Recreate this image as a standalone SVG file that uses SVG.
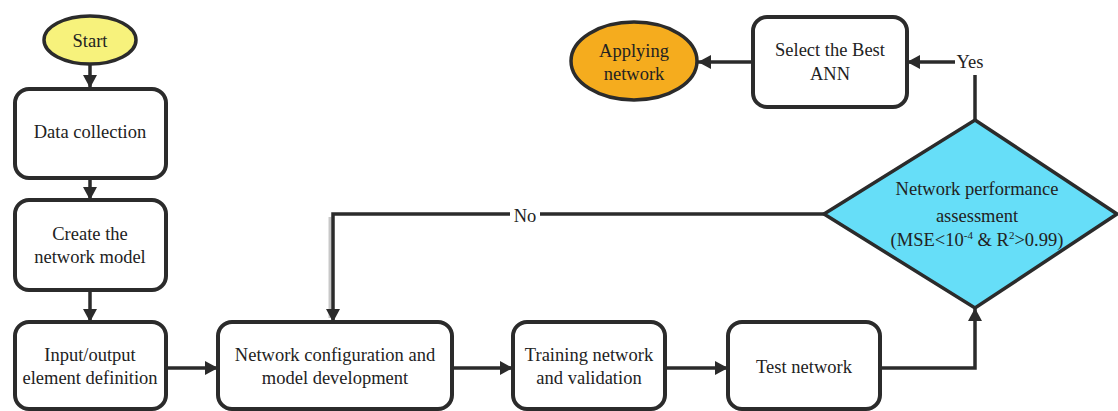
<svg xmlns="http://www.w3.org/2000/svg" width="1118" height="411" viewBox="0 0 1118 411">
<style>
.box{fill:#ffffff;stroke:#2b2b2b;stroke-width:4}
.t{font-family:"Liberation Serif","Times New Roman",serif;font-size:18.5px;fill:#222;text-anchor:middle}
.c{fill:none;stroke:#2b2b2b;stroke-width:3.5}
</style>
<defs>
<marker id="ah" markerUnits="userSpaceOnUse" markerWidth="14" markerHeight="14" refX="13" refY="7" orient="auto">
<path d="M0,0 L13,7 L0,14 z" fill="#2b2b2b"/>
</marker>
</defs>
<rect width="1118" height="411" fill="#ffffff"/>

<g id="connectors">
<line class="c" x1="90" y1="65" x2="90" y2="88" marker-end="url(#ah)"/>
<line class="c" x1="90" y1="178" x2="90" y2="200" marker-end="url(#ah)"/>
<line class="c" x1="90" y1="290" x2="90" y2="322" marker-end="url(#ah)"/>
<line class="c" x1="166" y1="368" x2="218" y2="368" marker-end="url(#ah)"/>
<line class="c" x1="452" y1="368" x2="513" y2="368" marker-end="url(#ah)"/>
<line class="c" x1="665" y1="368" x2="728" y2="368" marker-end="url(#ah)"/>
<polyline class="c" points="880,368 975,368 975,308" marker-end="url(#ah)"/>
<line x1="330" y1="217" x2="330" y2="318" stroke="#c8c8c8" stroke-width="3"/>
<polyline class="c" points="824,214 333,214 333,322" marker-end="url(#ah)"/>
<polyline class="c" points="975,120 975,75"/>
<line class="c" x1="955" y1="62" x2="907" y2="62" marker-end="url(#ah)"/>
<line class="c" x1="753" y1="62" x2="698" y2="62" marker-end="url(#ah)"/>
<rect x="510" y="205" width="30" height="18" fill="#ffffff"/>
<text class="t" x="525" y="222">No</text>
<text class="t" x="970" y="68">Yes</text>
</g>

<g id="start">
<ellipse cx="90" cy="40" rx="46" ry="24" fill="#f7f27c" stroke="#2b2b2b" stroke-width="3.5"/>
<text class="t" x="90" y="47">Start</text>
</g>

<g id="data-collection">
<rect class="box" x="15" y="89" width="151" height="89" rx="14"/>
<text class="t" x="90" y="138">Data collection</text>
</g>

<g id="create-model">
<rect class="box" x="15" y="200" width="151" height="90" rx="14"/>
<text class="t" x="90" y="240">Create the</text>
<text class="t" x="90" y="263">network model</text>
</g>

<g id="io-definition">
<rect class="box" x="15" y="322" width="151" height="87" rx="14"/>
<text class="t" x="90" y="361">Input/output</text>
<text class="t" x="90" y="384">element definition</text>
</g>

<g id="network-config">
<rect class="box" x="218" y="322" width="234" height="87" rx="14"/>
<text class="t" x="335" y="361">Network configuration and</text>
<text class="t" x="335" y="384">model development</text>
</g>

<g id="training">
<rect class="box" x="513" y="322" width="152" height="87" rx="14"/>
<text class="t" x="589" y="361">Training network</text>
<text class="t" x="589" y="384">and validation</text>
</g>

<g id="test">
<rect class="box" x="728" y="322" width="152" height="87" rx="14"/>
<text class="t" x="804" y="373">Test network</text>
</g>

<g id="assessment">
<polygon points="975,120 1117,214 975,308 824,214" fill="#66def8" stroke="#2b2b2b" stroke-width="3.5"/>
<text class="t" x="977" y="195">Network performance</text>
<text class="t" x="977" y="222">assessment</text>
<text class="t" x="977" y="246">(MSE&lt;10<tspan font-size="11" dy="-7">-4</tspan><tspan dy="7"> &amp; R</tspan><tspan font-size="11" dy="-7">2</tspan><tspan dy="7">&gt;0.99)</tspan></text>
</g>

<g id="select-best">
<rect class="box" x="753" y="17" width="154" height="90" rx="14"/>
<text class="t" x="830" y="56">Select the Best</text>
<text class="t" x="830" y="80">ANN</text>
</g>

<g id="applying">
<ellipse cx="634" cy="61" rx="63" ry="39" fill="#f5ac1e" stroke="#2b2b2b" stroke-width="3.5"/>
<text class="t" x="634" y="57">Applying</text>
<text class="t" x="634" y="80">network</text>
</g>
</svg>
